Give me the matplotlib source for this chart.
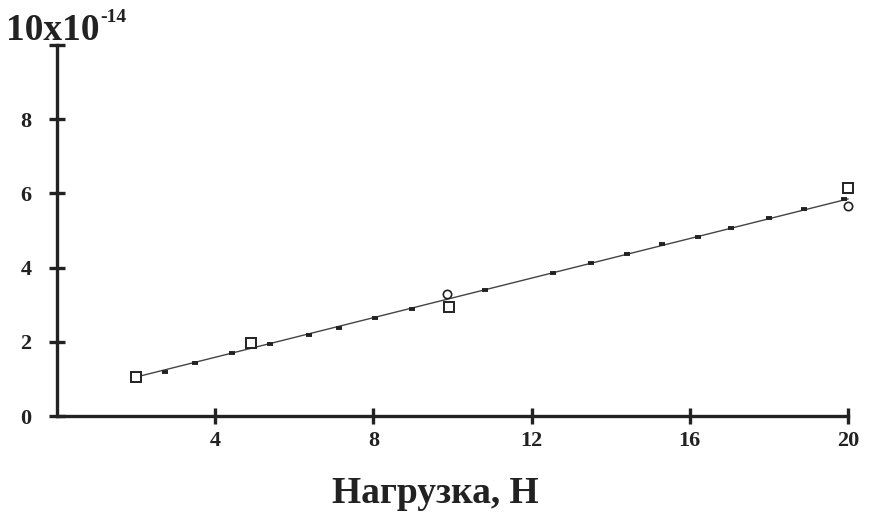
import matplotlib
matplotlib.use("Agg")
import matplotlib.pyplot as plt

# Data (y in units of 1e-14)
square_x = [2, 4.9, 9.9, 20]
square_y = [1.05, 1.97, 2.94, 6.15]
circle_x = [9.85, 20]
circle_y = [3.28, 5.65]
fit_x = [2, 20]
fit_y = [1.05, 5.85]
mark_x = [2.72, 3.5, 4.43, 5.39, 6.37, 7.13, 8.04, 8.97, 10.83, 12.54, 13.5, 14.4, 15.3, 16.2, 17.05, 18.0, 18.9, 19.9]
mark_y = [1.19, 1.43, 1.70, 1.94, 2.18, 2.37, 2.64, 2.88, 3.40, 3.85, 4.12, 4.37, 4.64, 4.82, 5.07, 5.34, 5.58, 5.85]
x_ticks = [4, 8, 12, 16, 20]
y_ticks = [0, 2, 4, 6, 8, 10]
y_labels = ["0", "2", "4", "6", "8", ""]
x_label = "Нагрузка, Н"
y_unit_base = "10x10"
y_unit_exp = "-14"

plt.rcParams['font.family'] = ['Liberation Serif', 'DejaVu Serif']
plt.rcParams['font.weight'] = 'bold'
ink = "#222222"

fig = plt.figure(figsize=(8.7, 5.12), dpi=100)
ax = fig.add_axes([57/870, 1 - 416/512, (848-57)/870, (416-45)/512])
ax.set_xlim(0, 20)
ax.set_ylim(0, 10)

ax.plot(fit_x, fit_y, color="#444444", lw=1.0, zorder=2, clip_on=False)
ax.plot(mark_x, mark_y, linestyle="none", marker="_", markersize=4.5, markeredgewidth=2.8,
        color=ink, zorder=3, clip_on=False)
ax.plot(square_x, square_y, linestyle="none", marker="s", markersize=7,
        markerfacecolor="white", markeredgecolor=ink, markeredgewidth=1.4, zorder=4, clip_on=False)
ax.plot(circle_x, circle_y, linestyle="none", marker="o", markersize=6,
        markerfacecolor="white", markeredgecolor=ink, markeredgewidth=1.2, zorder=4, clip_on=False)

for s in ["top", "right"]:
    ax.spines[s].set_visible(False)
for s in ["left", "bottom"]:
    ax.spines[s].set_linewidth(2.4)
    ax.spines[s].set_color(ink)
ax.spines["bottom"].set_bounds(0, 20)

ax.set_xticks(x_ticks)
ax.set_xticklabels([str(v) for v in x_ticks])
ax.set_yticks(y_ticks)
ax.set_yticklabels(y_labels)
ax.tick_params(axis="both", direction="inout", length=11, width=2.4, color=ink,
               labelsize=16, labelcolor=ink)
ax.tick_params(axis="y", pad=13)
ax.tick_params(axis="x", pad=5)
for lbl in ax.get_xticklabels() + ax.get_yticklabels():
    lbl.set_fontweight("bold")

fig.text(435/870, 1 - 503/512, x_label, fontsize=27, fontweight="bold", color=ink,
         ha="center", va="baseline")
fig.text(6/870, 1 - 40/512, y_unit_base, fontsize=27, fontweight="bold", color=ink,
         ha="left", va="baseline")
fig.text(100/870, 1 - 22/512, y_unit_exp, fontsize=14, fontweight="bold", color=ink,
         ha="left", va="baseline")

ax.set_facecolor("white")
fig.patch.set_facecolor("white")
fig.savefig("out.png", dpi=100, facecolor="white")
